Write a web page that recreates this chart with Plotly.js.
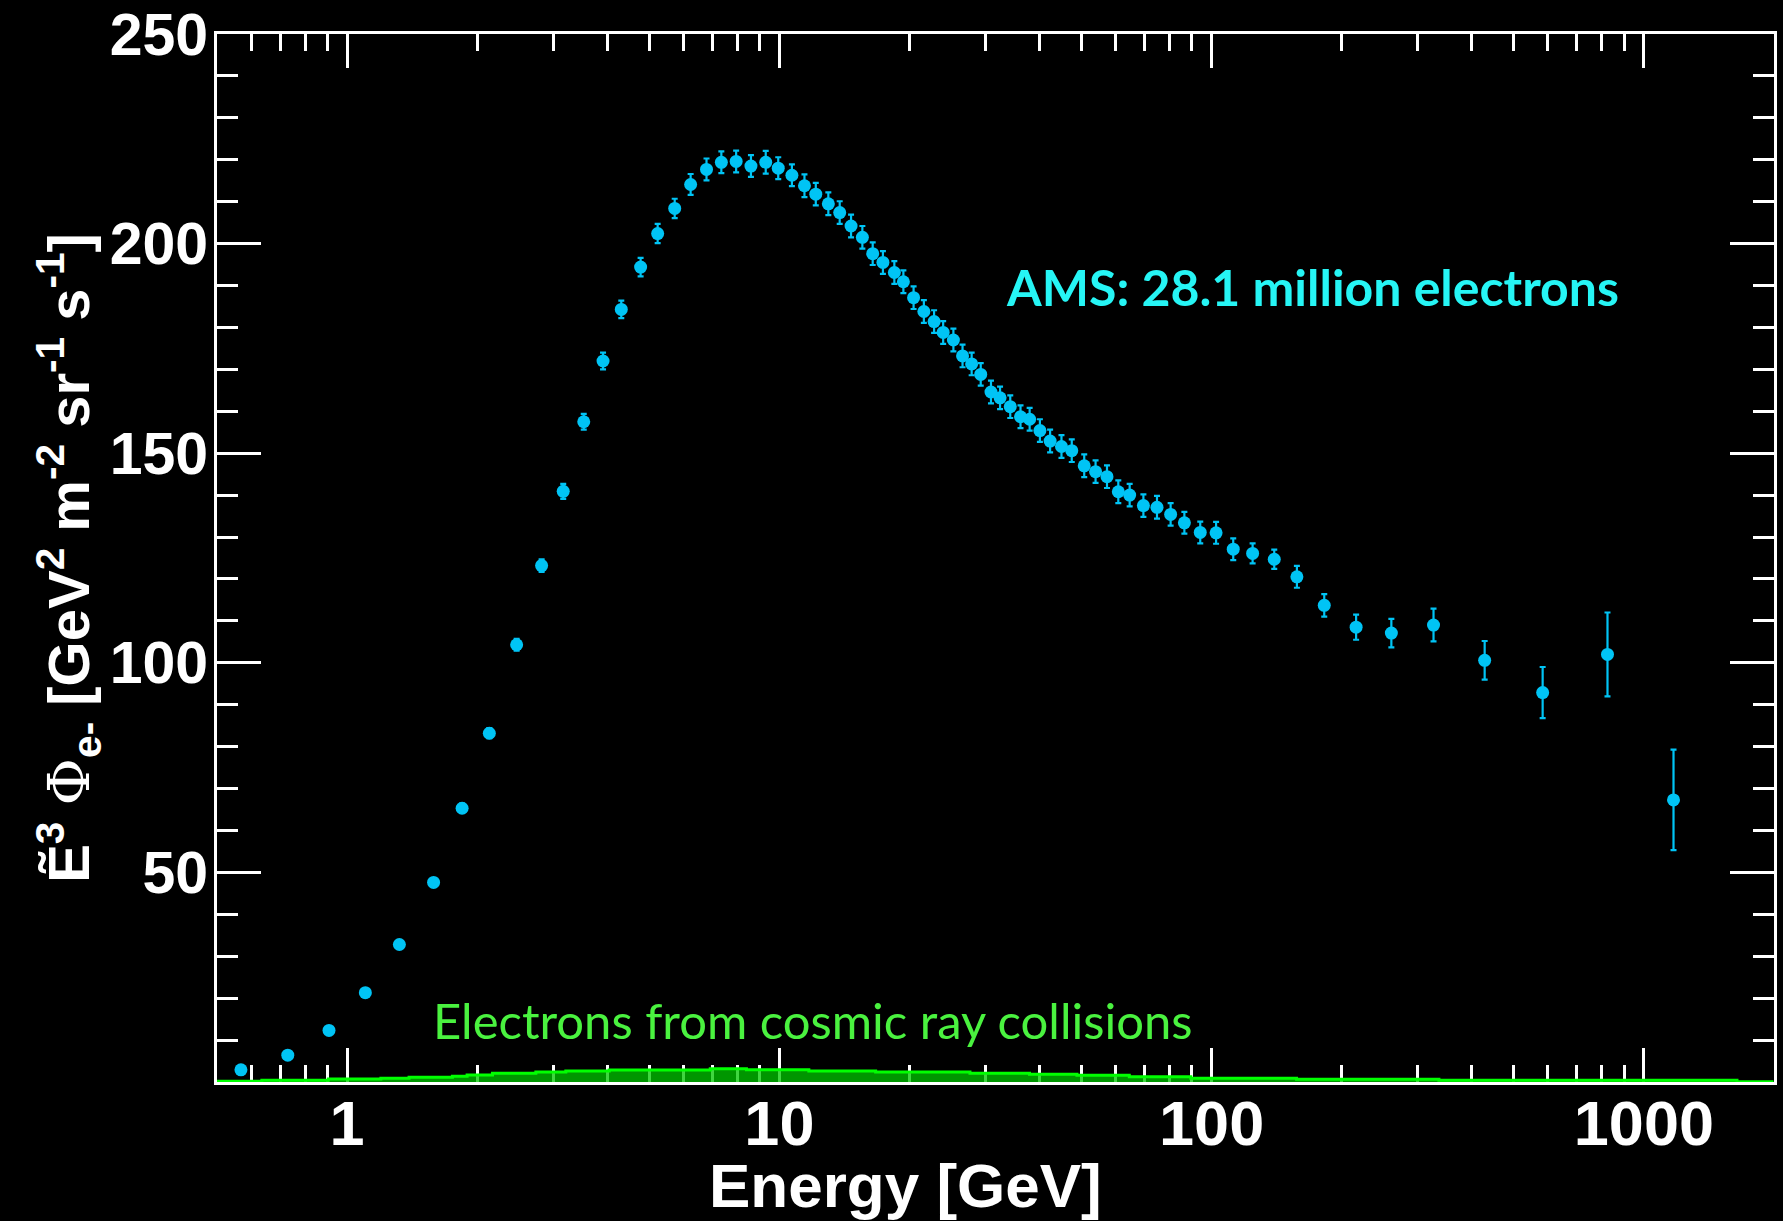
<!DOCTYPE html>
<html>
<head>
<meta charset="utf-8">
<script src="https://cdn.plot.ly/plotly-3.0.1.min.js"></script>
<style>
  html, body { margin: 0; padding: 0; background: #000; }
  #chart { width: 1783px; height: 1221px; }
</style>
</head>
<body>
<div id="chart"></div>
<script>
// AMS electron flux data
const energy = [0.568, 0.729, 0.908, 1.102, 1.321, 1.585, 1.845, 2.133, 2.467, 2.818,
  3.162, 3.527, 3.909, 4.308, 4.775, 5.229, 5.726, 6.233, 6.783, 7.341,
  7.943, 8.595, 9.299, 9.94, 10.69, 11.43, 12.14, 12.98, 13.79, 14.65,
  15.56, 16.44, 17.36, 18.45, 19.36, 20.44, 21.59, 22.80, 23.93, 25.27,
  26.53, 27.85, 29.23, 30.87, 32.40, 34.21, 36.13, 37.93, 40.06, 42.30,
  44.94, 47.47, 50.73, 53.89, 57.27, 60.83, 64.62, 69.53, 74.75, 80.38,
  86.49, 94.12, 102.4, 112.2, 124.4, 139.6, 157.5, 182.2, 215.9, 260.5,
  326.1, 428.2, 583.2, 823.8, 1171];
const flux = [2.9, 6.4, 12.3, 21.3, 32.8, 47.6, 65.3, 83.2, 104.3, 123.2,
  140.9, 157.5, 172.0, 184.3, 194.4, 202.4, 208.4, 214.1, 217.7, 219.4,
  219.6, 218.5, 219.4, 218.0, 216.3, 213.8, 211.8, 209.5, 207.4, 204.2,
  201.5, 197.6, 195.5, 193.1, 190.9, 187.1, 183.8, 181.4, 178.8, 177.0,
  173.2, 171.3, 168.8, 164.6, 163.2, 161.1, 158.7, 158.1, 155.4, 152.9,
  151.6, 150.6, 147.0, 145.6, 144.4, 140.8, 140.0, 137.5, 137.1, 135.4,
  133.4, 131.1, 131.0, 127.1, 126.1, 124.7, 120.5, 113.7, 108.5, 107.1,
  109.0, 100.6, 92.9, 102.0, 67.3];
const fluxErr = [0.3, 0.4, 0.5, 0.6, 0.8, 1.0, 1.1, 1.2, 1.4, 1.5,
  1.8, 1.9, 2.0, 2.1, 2.2, 2.3, 2.3, 2.5, 2.6, 2.6,
  2.6, 2.6, 2.7, 2.6, 2.6, 2.7, 2.7, 2.7, 2.7, 2.7,
  2.7, 2.7, 2.7, 2.7, 2.7, 2.7, 2.7, 2.7, 2.7, 2.7,
  2.7, 2.7, 2.7, 2.7, 2.7, 2.7, 2.7, 2.7, 2.7, 2.7,
  2.7, 2.7, 2.7, 2.7, 2.7, 2.7, 2.7, 2.7, 2.7, 2.7,
  2.6, 2.6, 2.6, 2.6, 2.4, 2.3, 2.6, 2.7, 3.0, 3.4,
  3.9, 4.6, 6.1, 10.0, 12.0];

// Secondary electrons from cosmic ray collisions (step histogram)
const bgEdges = [0.497, 0.635, 0.905, 1.197, 1.391, 1.752, 1.895, 2.169, 2.733, 3.206,
  4.04, 6.92, 8.39, 11.7, 16.7, 27.6, 37.9, 48.8, 64.5, 89.5,
  157.2, 335.6, 1642, 1995];
const bgValues = [0.16, 0.44, 0.72, 0.91, 1.15, 1.35, 1.67, 2.07, 2.39, 2.63,
  2.86, 3.18, 2.94, 2.63, 2.39, 2.10, 1.83, 1.59, 1.27, 0.875,
  0.64, 0.40, 0.08, 0.08];

// Ticks
const xMajorTicks = [1, 10, 100, 1000];
const xMajorLabels = ['1', '10', '100', '1000'];
const xMinorTicks = [0.6, 0.7, 0.8, 0.9, 2, 3, 4, 5, 6, 7, 8, 9,
  20, 30, 40, 50, 60, 70, 80, 90, 200, 300, 400, 500, 600, 700, 800, 900];
const yMajorTicks = [50, 100, 150, 200, 250];
const yMinorTicks = [10, 20, 30, 40, 60, 70, 80, 90, 110, 120, 130, 140,
  160, 170, 180, 190, 210, 220, 230, 240];

const labelFont = 'Liberation Sans, Arial, Helvetica, sans-serif';
const noteFont = 'Lato, Open Sans, sans-serif';

const bgTrace = {
  x: bgEdges, y: bgValues, type: 'scatter', mode: 'lines',
  line: { shape: 'hv', color: '#00ff00', width: 3 },
  fill: 'tozeroy', fillcolor: 'rgba(0,200,0,0.75)',
  hoverinfo: 'skip', showlegend: false
};

const dataTrace = {
  x: energy, y: flux, type: 'scatter', mode: 'markers',
  marker: { color: '#00c4f5', size: 13 },
  error_y: { type: 'data', array: fluxErr, visible: true, color: '#00c4f5', thickness: 2.2, width: 3 },
  showlegend: false
};

const tickCommon = {
  ticks: 'inside', tickcolor: '#ffffff', tickwidth: 3,
  showline: true, linecolor: '#ffffff', linewidth: 3, mirror: 'ticks',
  showgrid: false, zeroline: false, layer: 'below traces'
};

const layout = {
  width: 1783, height: 1221,
  paper_bgcolor: '#000000', plot_bgcolor: '#000000',
  margin: { l: 217, r: 9, t: 34, b: 139 },
  showlegend: false,
  xaxis: Object.assign({}, tickCommon, {
    type: 'log',
    range: [Math.log10(0.5), Math.log10(2000)],
    tickmode: 'array', tickvals: xMajorTicks, ticktext: xMajorLabels,
    ticklen: 34,
    ticklabelstandoff: -16,
    tickfont: { family: labelFont, size: 63, color: '#ffffff', weight: 'bold' },
    minor: { tickmode: 'array', tickvals: xMinorTicks, ticks: 'inside', ticklen: 17, tickwidth: 3, tickcolor: '#ffffff', showgrid: false }
  }),
  yaxis: Object.assign({}, tickCommon, {
    range: [0, 250],
    tickmode: 'array', tickvals: yMajorTicks,
    ticklen: 44,
    ticklabelstandoff: -6,
    tickfont: { family: labelFont, size: 59, color: '#ffffff', weight: 'bold' },
    minor: { tickmode: 'array', tickvals: yMinorTicks, ticks: 'inside', ticklen: 21, tickwidth: 3, tickcolor: '#ffffff', showgrid: false },
    title: {
      text: 'Ẽ<sup>3</sup> <span style="font-family:DejaVu Serif;font-weight:normal">Φ</span><sub>e-</sub> [GeV<sup>2</sup> m<sup>-2</sup> sr<sup>-1</sup> s<sup>-1</sup>]',
      font: { family: labelFont, size: 58, color: '#ffffff', weight: 'bold' },
      standoff: 0
    }
  }),
  annotations: [
    {
      text: 'Energy [GeV]', xref: 'paper', yref: 'paper',
      x: 0.4425, y: -0.1326, xanchor: 'center', yanchor: 'bottom',
      showarrow: false, borderpad: 0,
      font: { family: labelFont, size: 62, color: '#ffffff', weight: 'bold' }
    },
    {
      text: 'AMS: 28.1 million electrons', xref: 'paper', yref: 'paper',
      x: 0.7033, y: 0.7586, xanchor: 'center', yanchor: 'middle',
      showarrow: false,
      font: { family: noteFont, size: 50, color: '#26f5f5', weight: 'bold' }
    },
    {
      text: 'Electrons from cosmic ray collisions', xref: 'paper', yref: 'paper',
      x: 0.3828, y: 0.0592, xanchor: 'center', yanchor: 'middle',
      showarrow: false,
      font: { family: noteFont, size: 49, color: '#4af23f' }
    }
  ]
};

Plotly.newPlot('chart', [bgTrace, dataTrace], layout, { staticPlot: true, displayModeBar: false });
</script>
</body>
</html>
